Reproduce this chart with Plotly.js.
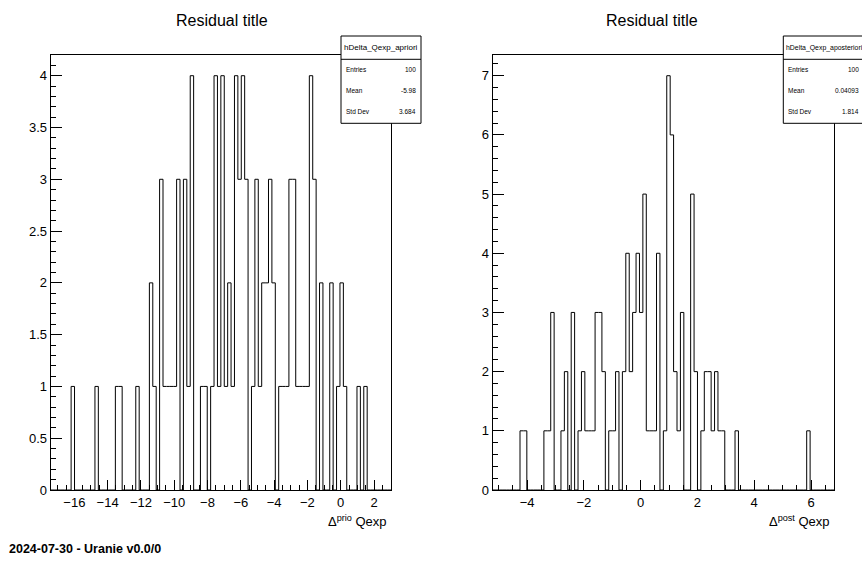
<!DOCTYPE html>
<html>
<head>
<meta charset="utf-8">
<script src="https://cdn.plot.ly/plotly-3.0.1.min.js"></script>
<style>
  html, body { margin: 0; padding: 0; background: #ffffff; }
  #chart { width: 862px; height: 565px; }
</style>
</head>
<body>
<div id="chart"></div>
<script>
// ---------------- data ----------------
const nBins = 100;

// a priori residuals histogram
const priorRange = [-17.42, 3.02];
const priorCounts = [
  0,0,0,0,0,0,1,0,0,0,
  0,0,0,1,0,0,0,0,0,1,
  1,0,0,0,0,1,0,0,0,2,
  1,0,3,1,1,1,1,3,0,3,
  1,4,0,0,1,1,0,1,4,1,
  4,1,2,1,4,3,4,3,0,1,
  3,1,2,2,3,2,0,1,1,1,
  3,3,1,1,1,1,4,3,0,2,
  0,0,2,0,1,2,1,0,0,0,
  1,0,1,0,0,0,0,0,0,0
];
const priorStats = { name: "hDelta_Qexp_apriori", entries: "100", mean: "-5.98", std: "3.684" };

// a posteriori residuals histogram
const postRange = [-5.21, 6.81];
const postCounts = [
  0,0,0,0,0,0,0,0,1,1,
  0,0,0,0,0,1,1,3,0,0,
  1,2,0,3,0,1,2,1,1,1,
  3,3,2,0,1,1,2,0,2,4,
  2,3,4,3,5,1,1,1,4,0,
  1,7,6,2,1,3,0,0,5,2,
  0,1,2,2,1,2,1,1,0,0,
  0,1,0,0,0,0,0,0,0,0,
  0,0,0,0,0,0,0,0,0,0,
  0,0,1,0,0,0,0,0,0,0
];
const postStats = { name: "hDelta_Qexp_aposteriori", entries: "100", mean: "0.04093", std: "1.814" };

const plotTitle = "Residual title";
const priorXLabel = "Δ<sup>prio</sup> Qexp";
const postXLabel = "Δ<sup>post</sup> Qexp";
const footer = "<b>2024-07-30 - Uranie v0.0/0</b>";

// ---------------- helpers ----------------
function stepTrace(range, counts, xa, ya) {
  const w = (range[1] - range[0]) / counts.length;
  const xs = [], ys = [];
  for (let i = 0; i <= counts.length; i++) {
    xs.push(range[0] + i * w);
    ys.push(i < counts.length ? counts[i] : counts[counts.length - 1]);
  }
  return {
    type: "scatter", mode: "lines", x: xs, y: ys,
    xaxis: xa, yaxis: ya,
    line: { shape: "hv", color: "#000000", width: 1 },
    hoverinfo: "skip", cliponaxis: false
  };
}

const W = 862, H = 565;
const px = v => v / W;
const py = v => 1 - v / H;
const FONT = "Liberation Sans, Arial, Helvetica, sans-serif";

const axisCommon = {
  showline: true, linecolor: "#000000", linewidth: 1, mirror: true,
  ticks: "inside", ticklen: 10, tickwidth: 1, tickcolor: "#000000",
  showgrid: false, zeroline: false, automargin: false, fixedrange: true,
  tickfont: { family: FONT, size: 13, color: "#000000" },
  tickmode: "linear"
};

const frameTop = 55, frameBottom = 490;
const leftFrame = [50.7, 391];
const rightFrame = [492.7, 834];

const layout = {
  width: W, height: H,
  margin: { l: 0, r: 0, t: 0, b: 0 },
  paper_bgcolor: "#ffffff", plot_bgcolor: "#ffffff",
  showlegend: false,
  xaxis: Object.assign({}, axisCommon, {
    domain: [px(leftFrame[0]), px(leftFrame[1])], range: priorRange,
    tick0: 0, dtick: 2, anchor: "y",
    minor: { dtick: 0.5, ticks: "inside", ticklen: 5, tickcolor: "#000000", tickwidth: 1, showgrid: false }
  }),
  yaxis: Object.assign({}, axisCommon, {
    domain: [py(frameBottom), py(frameTop)], range: [0, 4.2],
    tick0: 0, dtick: 0.5, anchor: "x",
    ticklen: 11,
    minor: { dtick: 0.1, ticks: "inside", ticklen: 5.5, tickcolor: "#000000", tickwidth: 1, showgrid: false }
  }),
  xaxis2: Object.assign({}, axisCommon, {
    domain: [px(rightFrame[0]), px(rightFrame[1])], range: postRange,
    tick0: 0, dtick: 2, anchor: "y2",
    minor: { dtick: 0.5, ticks: "inside", ticklen: 5, tickcolor: "#000000", tickwidth: 1, showgrid: false }
  }),
  yaxis2: Object.assign({}, axisCommon, {
    domain: [py(frameBottom), py(frameTop)], range: [0, 7.35],
    tick0: 0, dtick: 1, anchor: "x2",
    ticklen: 11,
    minor: { dtick: 0.2, ticks: "inside", ticklen: 5.5, tickcolor: "#000000", tickwidth: 1, showgrid: false }
  }),
  shapes: [],
  annotations: []
};

function addStats(st, x0, x1, headerSize, headerAnchorLeft) {
  const top = 36, sep = 59.3, bottom = 123.3;
  layout.shapes.push({
    type: "rect", xref: "paper", yref: "paper",
    x0: px(x0), x1: px(x1), y0: py(bottom), y1: py(top),
    line: { color: "#000000", width: 1 }, fillcolor: "#ffffff", layer: "above"
  });
  layout.shapes.push({
    type: "line", xref: "paper", yref: "paper",
    x0: px(x0), x1: px(x1), y0: py(sep), y1: py(sep),
    line: { color: "#000000", width: 1 }, layer: "above"
  });
  const ann = (text, x, y, anchor, size) => layout.annotations.push({
    text: text, xref: "paper", yref: "paper", x: px(x), y: py(y),
    xanchor: anchor, yanchor: "middle", showarrow: false,
    font: { family: FONT, size: size, color: "#000000" }
  });
  if (headerAnchorLeft) ann(st.name, x0 + 1, 47.5, "left", headerSize);
  else ann(st.name, (x0 + x1) / 2, 47.5, "center", headerSize);
  ann("Entries", x0 + 3, 69, "left", 6.5);
  ann("Mean", x0 + 3, 91, "left", 6.5);
  ann("Std Dev", x0 + 3, 111.5, "left", 6.5);
  ann(st.entries, x1 - 3, 69, "right", 6.5);
  ann(st.mean, x1 - 3, 91, "right", 6.5);
  ann(st.std, x1 - 3, 111.5, "right", 6.5);
}

// titles
layout.annotations.push({
  text: plotTitle, xref: "paper", yref: "paper", x: px(221.5), y: py(20),
  xanchor: "center", yanchor: "middle", showarrow: false,
  font: { family: FONT, size: 16, color: "#000000" }
});
layout.annotations.push({
  text: plotTitle, xref: "paper", yref: "paper", x: px(652), y: py(20),
  xanchor: "center", yanchor: "middle", showarrow: false,
  font: { family: FONT, size: 16, color: "#000000" }
});
// axis titles
layout.annotations.push({
  text: priorXLabel, xref: "paper", yref: "paper", x: px(389), y: py(521),
  xanchor: "right", yanchor: "middle", showarrow: false,
  font: { family: FONT, size: 13, color: "#000000" }
});
layout.annotations.push({
  text: postXLabel, xref: "paper", yref: "paper", x: px(832), y: py(521),
  xanchor: "right", yanchor: "middle", showarrow: false,
  font: { family: FONT, size: 13, color: "#000000" }
});
// footer
layout.annotations.push({
  text: footer, xref: "paper", yref: "paper", x: px(7), y: py(549),
  xanchor: "left", yanchor: "middle", showarrow: false,
  font: { family: FONT, size: 12.5, color: "#000000" }
});

addStats(priorStats, 341, 421, 8, false);
addStats(postStats, 783.3, 864, 6.9, true);

const data = [
  stepTrace(priorRange, priorCounts, "x", "y"),
  stepTrace(postRange, postCounts, "x2", "y2")
];

Plotly.newPlot("chart", data, layout, { staticPlot: true, displayModeBar: false });
</script>
</body>
</html>
